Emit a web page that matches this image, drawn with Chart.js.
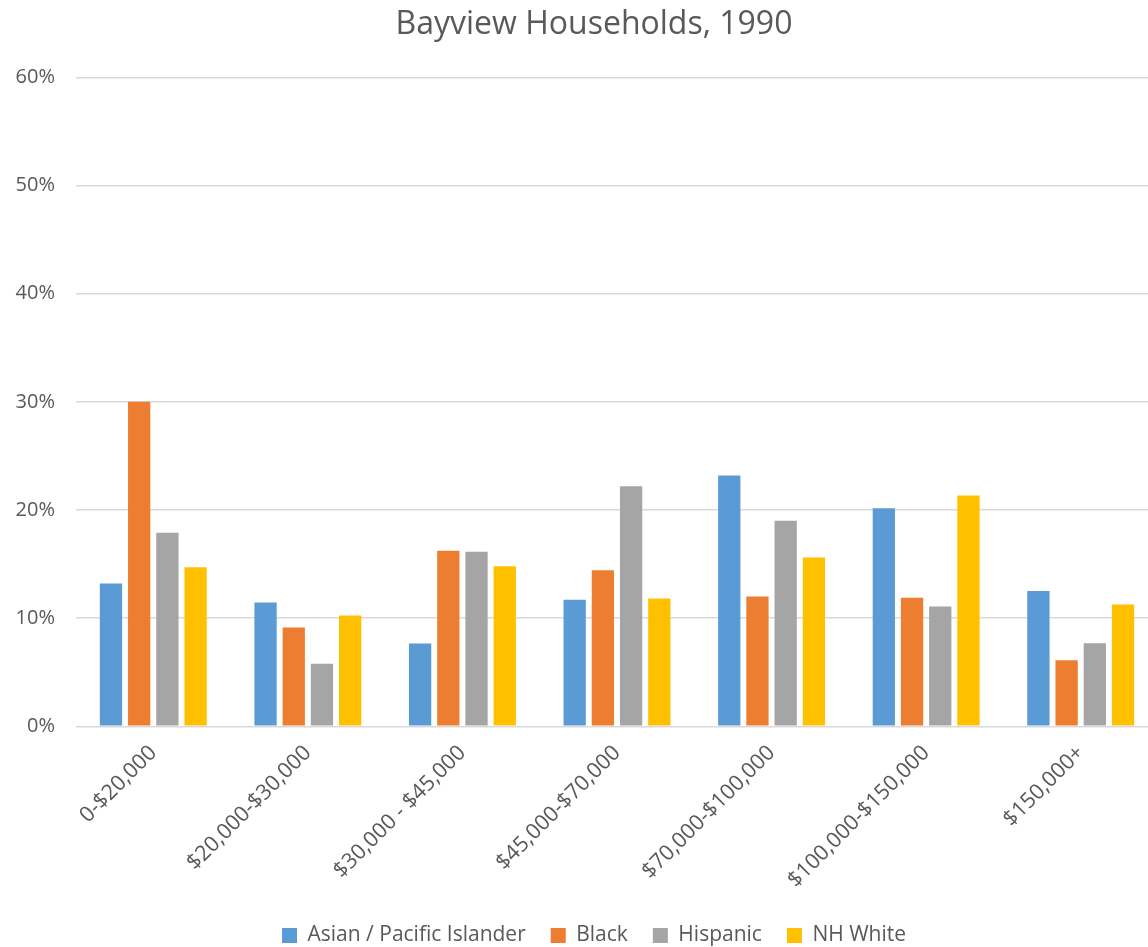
<!DOCTYPE html>
<html>
<head>
<meta charset="utf-8">
<script src="https://cdn.jsdelivr.net/npm/chart.js@4"></script>
<style>
  body { margin: 0; background: #fff; overflow: hidden; }
  #wrap { width: 1174px; height: 947px; }
</style>
</head>
<body>
<div id="wrap"><canvas id="incomeChart"></canvas></div>
<script>
var incomeBands = [
    "0-$20,000",
    "$20,000-$30,000",
    "$30,000 - $45,000",
    "$45,000-$70,000",
    "$70,000-$100,000",
    "$100,000-$150,000",
    "$150,000+",
];

// percent of households in each band
var asianPacific = [13.2, 11.45, 7.66, 11.7, 23.2, 20.16, 12.5];
var black = [30.0, 9.14, 16.24, 14.44, 12.0, 11.89, 6.11];
var hispanic = [17.9, 5.78, 16.15, 22.2, 19.0, 11.08, 7.69];
var nhWhite = [14.7, 10.25, 14.79, 11.82, 15.6, 21.33, 11.27];

var textColor = "#595959";
var fontFamily = "'Open Sans', 'Liberation Sans', sans-serif";

// the first rotated label asks for room on the left, which we do not want
function trimPadding(axis) {
    axis.paddingLeft = 0;
    axis.paddingRight = 16;
}

new Chart("incomeChart", {
    type: "bar",
    data: {
        labels: incomeBands,
        datasets: [
            { label: "Asian / Pacific Islander", data: asianPacific, backgroundColor: "#5B9BD5" },
            { label: "Black", data: black, backgroundColor: "#ED7D31" },
            { label: "Hispanic", data: hispanic, backgroundColor: "#A5A5A5" },
            { label: "NH White", data: nhWhite, backgroundColor: "#FFC000" },
        ],
    },
    options: {
        responsive: true,
        maintainAspectRatio: false,
        animation: false,
        categoryPercentage: 0.73,
        barPercentage: 0.79,
        layout: {
            padding: { left: 14, right: 0, top: 6, bottom: -9 },
        },
        plugins: {
            title: {
                display: true,
                text: "Bayview Households, 1990",
                color: textColor,
                font: { family: fontFamily, size: 32, weight: "normal" },
                padding: { top: 0, bottom: 33 },
            },
            legend: {
                position: "bottom",
                labels: {
                    color: textColor,
                    font: { family: fontFamily, size: 21 },
                    boxWidth: 15,
                    boxHeight: 15,
                    padding: 25,
                },
            },
            tooltip: { enabled: false },
        },
        scales: {
            x: {
                grid: { display: false },
                border: { display: false },
                ticks: {
                    color: textColor,
                    font: { family: fontFamily, size: 21.5 },
                    minRotation: 45,
                    maxRotation: 45,
                    padding: 6,
                },
                afterFit: function (axis) {
                    trimPadding(axis);
                    axis.height += 1;
                },
                afterUpdate: trimPadding,
            },
            y: {
                min: 0,
                max: 60,
                grid: { color: "#D9D9D9", lineWidth: 1.5, drawTicks: false },
                border: { display: false },
                ticks: {
                    stepSize: 10,
                    color: textColor,
                    font: { family: fontFamily, size: 20 },
                    padding: 21,
                    callback: function (value) {
                        return value + "%";
                    },
                },
                afterFit: function (axis) {
                    axis.width = 62;
                },
            },
        },
    },
});
</script>
</body>
</html>
